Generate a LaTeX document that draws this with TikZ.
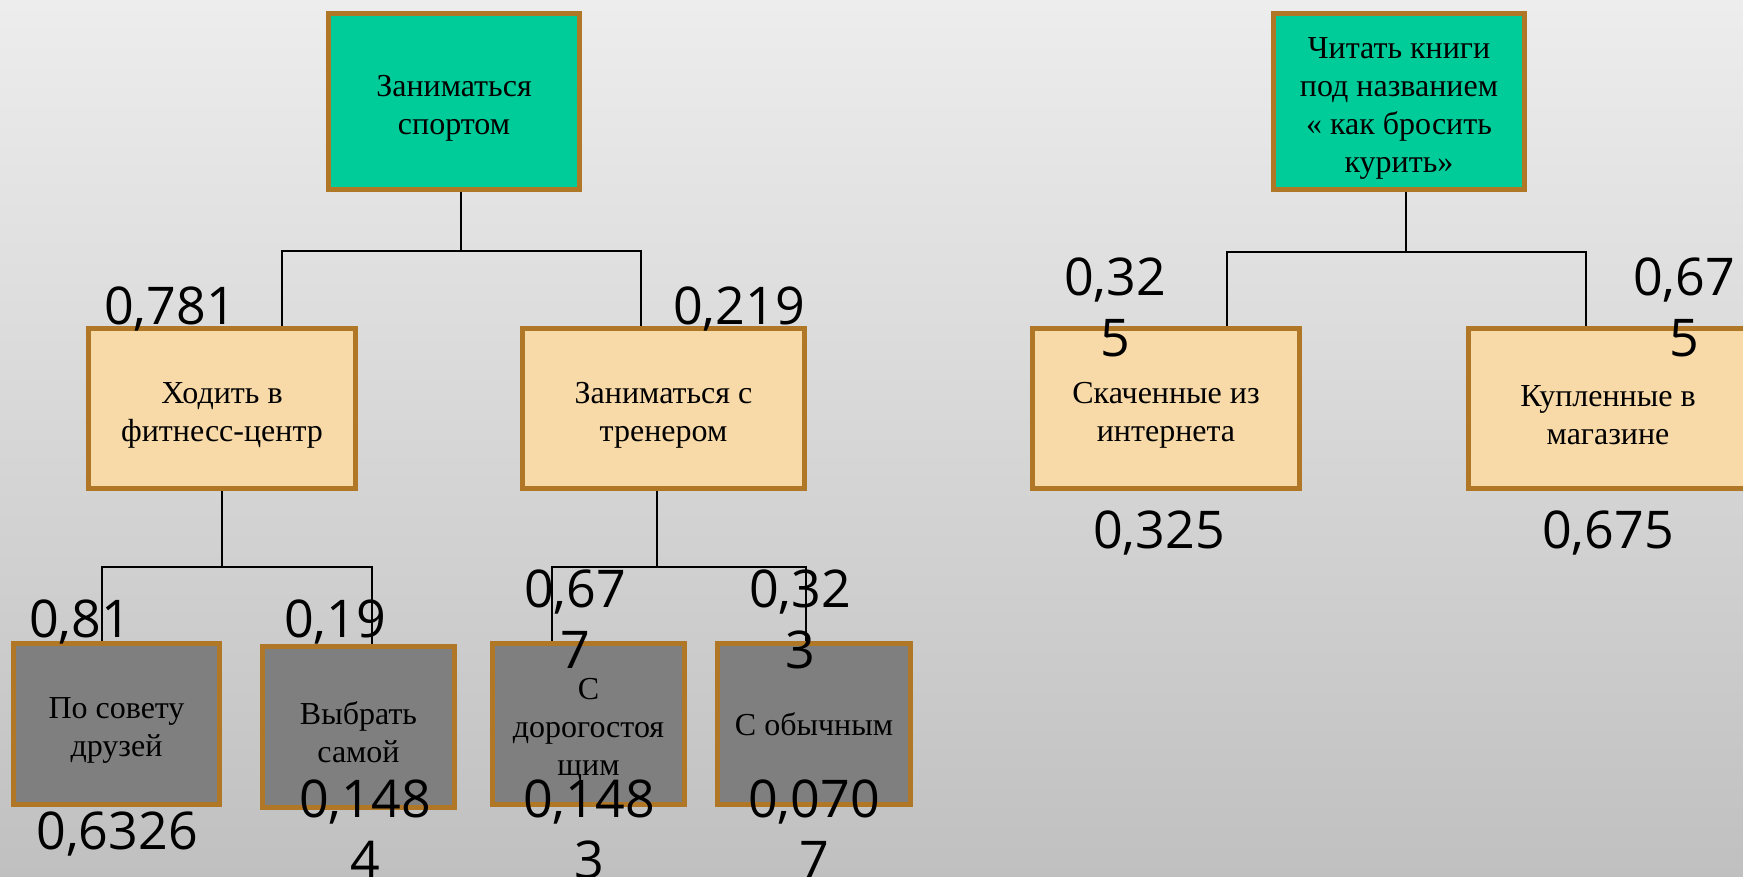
\documentclass[tikz,border=0pt]{standalone}
\usepackage{fontspec}
\setmainfont{Liberation Serif}
\newfontfamily\numfont{Open Sans}
\pgfdeclarelayer{bglayer}
\pgfdeclarelayer{edgelayer}
\pgfdeclarelayer{nodelayer}
\pgfsetlayers{bglayer,edgelayer,nodelayer,main}
\definecolor{goalgreen}{RGB}{0,204,153}
\definecolor{optpeach}{RGB}{248,217,168}
\definecolor{waygray}{RGB}{127,127,127}
\definecolor{rim}{RGB}{176,120,38}
\definecolor{bgtop}{RGB}{237,237,237}
\definecolor{bgbot}{RGB}{192,192,192}
\newcommand{\lift}{\rule{0pt}{34pt}}
\tikzstyle{box}=[rectangle,draw=rim,line width=5pt,align=center,inner sep=2pt,font=\fontsize{32}{38}\selectfont]
\tikzstyle{goal}=[box,fill=goalgreen,minimum width=251pt,minimum height=176pt]
\tikzstyle{option}=[box,fill=optpeach,minimum height=160pt]
\tikzstyle{way}=[box,fill=waygray,minimum height=161pt]
\tikzstyle{weight}=[align=center,inner sep=0pt,font=\numfont\fontsize{52}{61}\selectfont]
\tikzstyle{link}=[draw=black,line width=1.8pt]

\begin{document}
\begin{tikzpicture}[x=1pt,y=-1pt]
	\useasboundingbox (0,0) rectangle (1743,876);
	\begin{pgfonlayer}{bglayer}
		\shade [top color=bgtop,bottom color=bgbot] (0,0) rectangle (1743,876);
	\end{pgfonlayer}
	\begin{pgfonlayer}{nodelayer}
		\node [style=goal] (0) at (454, 101.5) {\lift Заниматься\\спортом};
		\node [style=goal] (1) at (1399, 101.5) {\lift Читать книги\\под названием\\« как бросить\\курить»};
		\node [style=option, minimum width=267pt] (2) at (222, 408.5) {\lift Ходить в\\фитнесс-центр};
		\node [style=option, minimum width=282pt] (3) at (663.5, 408.5) {\lift Заниматься с\\тренером};
		\node [style=option, minimum width=267pt] (4) at (1166, 408.5) {\lift Скаченные из\\интернета};
		\node [style=option, minimum width=280pt] (5) at (1608, 408.5) {\lift Купленные в\\магазине};
		\node [style=way, minimum width=206pt] (6) at (116.5, 724) {\lift По совету\\друзей};
		\node [style=way, minimum width=192pt] (7) at (358.5, 726.5) {\lift Выбрать\\самой};
		\node [style=way, minimum width=192pt] (8) at (588.5, 724) {\lift С\\дорогостоя\\щим};
		\node [style=way, minimum width=193pt] (9) at (814, 724) {С обычным};
	\end{pgfonlayer}
	\begin{pgfonlayer}{edgelayer}
		\draw [style=link] ([xshift=7pt]0.south) -- ++(0,59) -| ([xshift=60pt]2.north);
		\draw [style=link] ([xshift=7pt]0.south) -- ++(0,59) -| ([xshift=-22.5pt]3.north);
		\draw [style=link] ([xshift=7pt]1.south) -- ++(0,60) -| ([xshift=61pt]4.north);
		\draw [style=link] ([xshift=7pt]1.south) -- ++(0,60) -| ([xshift=-22pt]5.north);
		\draw [style=link] (2.south) -- ++(0,76) -| ([xshift=-14.5pt]6.north);
		\draw [style=link] (2.south) -- ++(0,76) -| ([xshift=13.5pt]7.north);
		\draw [style=link] ([xshift=-6.5pt]3.south) -- ++(0,76) -| ([xshift=-36.5pt]8.north);
		\draw [style=link] ([xshift=-6.5pt]3.south) -- ++(0,76) -| ([xshift=-8pt]9.north);
	\end{pgfonlayer}
	\node [style=weight] (10) at (170, 309) {0,781};
	\node [style=weight] (11) at (739, 309) {0,219};
	\node [style=weight] (12) at (1115, 307) {0,32\\5};
	\node [style=weight] (13) at (1684, 307) {0,67\\5};
	\node [style=weight] (14) at (1159, 533) {0,325};
	\node [style=weight] (15) at (1608, 533) {0,675};
	\node [style=weight] (16) at (80, 622) {0,81};
	\node [style=weight] (17) at (335, 622) {0,19};
	\node [style=weight] (18) at (575, 619) {0,67\\7};
	\node [style=weight] (19) at (800, 619) {0,32\\3};
	\node [style=weight] (20) at (117, 834) {0,6326};
	\node [style=weight] (21) at (365, 829) {0,148\\4};
	\node [style=weight] (22) at (589, 829) {0,148\\3};
	\node [style=weight] (23) at (814, 829) {0,070\\7};
\end{tikzpicture}
\end{document}
